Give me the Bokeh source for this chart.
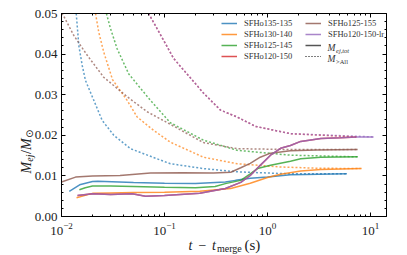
import math
from bokeh.plotting import figure
from bokeh.models import (Range1d, LinearAxis, LogAxis, LogTicker, SingleIntervalTicker,
                          NumeralTickFormatter, Legend, LegendItem, Label)
from bokeh.embed import file_html
from bokeh.resources import INLINE

# ---------------- data ----------------
models = ["SFHo135-135", "SFHo130-140", "SFHo125-145", "SFHo120-150",
          "SFHo125-155", "SFHo120-150-lr"]
colors = ["#1f77b4", "#ff7f0e", "#2ca02c", "#d62728", "#8c564b", "#9467bd"]

# solid: ejecta mass vs time after merger
t_unb_135 = [0.0119, 0.0150, 0.020, 0.0225, 0.05, 0.1, 0.2, 0.39, 0.49, 0.68, 1.0, 1.67, 5.9]
m_unb_135 = [0.0062, 0.0078, 0.0086, 0.0087, 0.0084, 0.0082, 0.0081, 0.0085, 0.0089, 0.0094, 0.0097, 0.0103, 0.0105]

t_unb_130 = [0.014, 0.017, 0.020, 0.030, 0.05, 0.1, 0.22, 0.44, 0.68, 1.0, 1.34, 2.1, 3.3, 8.2]
m_unb_130 = [0.0046, 0.0052, 0.0057, 0.0058, 0.0059, 0.0060, 0.0062, 0.0069, 0.0082, 0.0096, 0.0104, 0.0112, 0.0116, 0.0118]

t_unb_125 = [0.0149, 0.017, 0.020, 0.030, 0.05, 0.1, 0.2, 0.31, 0.39, 0.55, 0.68, 0.80, 1.07, 1.67, 2.1, 3.3, 7.5]
m_unb_125 = [0.0066, 0.0071, 0.0075, 0.0075, 0.0074, 0.0072, 0.0071, 0.0074, 0.0081, 0.0089, 0.0105, 0.0118, 0.0126, 0.0136, 0.0142, 0.0146, 0.0147]

t_unb_120 = [0.0143, 0.020, 0.030, 0.0485, 0.0654, 0.1, 0.22, 0.39, 0.55, 0.68, 0.85, 1.07, 1.34, 1.67, 2.1, 3.3, 5.1, 7.3]
m_unb_120 = [0.0052, 0.0056, 0.0054, 0.0056, 0.0050, 0.0052, 0.0057, 0.0069, 0.0084, 0.0101, 0.0126, 0.0151, 0.0168, 0.0175, 0.0185, 0.0192, 0.0194, 0.0196]

t_unb_155 = [0.0100, 0.0137, 0.020, 0.037, 0.073, 0.15, 0.30, 0.44, 0.55, 0.68, 0.85, 1.07, 1.67, 3.0, 7.5]
m_unb_155 = [0.0085, 0.0097, 0.0100, 0.0101, 0.0107, 0.0108, 0.0107, 0.0109, 0.0120, 0.0131, 0.0146, 0.0156, 0.0162, 0.0164, 0.0165]

t_unb_lr = [0.0143, 0.020, 0.030, 0.0485, 0.0654, 0.1, 0.22, 0.39, 0.55, 0.68, 0.85, 1.07, 1.34, 1.67, 2.1, 3.3, 5.1, 7.3, 10.7]
m_unb_lr = [0.0052, 0.0056, 0.0054, 0.0056, 0.0050, 0.0052, 0.0057, 0.0069, 0.0084, 0.0101, 0.0126, 0.0151, 0.0168, 0.0175, 0.0185, 0.0192, 0.0194, 0.0196, 0.0196]

# dotted: mass above threshold vs time after merger
t_all_135 = [0.0139, 0.01473, 0.01589, 0.0171, 0.0206, 0.0248, 0.0322, 0.0468, 0.0849, 0.114, 0.239, 0.508, 1.67, 5.98]
m_all_135 = [0.050, 0.0421, 0.0372, 0.0335, 0.0286, 0.0237, 0.0200, 0.0167, 0.0142, 0.0130, 0.0118, 0.0110, 0.0105, 0.0105]

t_all_130 = [0.0214, 0.0230, 0.0257, 0.0313, 0.0434, 0.0543, 0.0787, 0.114, 0.239, 0.508, 1.34, 3.0, 8.0]
m_all_130 = [0.050, 0.0454, 0.0405, 0.0337, 0.0286, 0.0245, 0.0212, 0.0183, 0.0146, 0.0130, 0.0122, 0.0119, 0.0118]

t_all_125 = [0.0273, 0.0299, 0.0347, 0.0450, 0.0503, 0.0731, 0.114, 0.239, 0.508, 1.67, 7.48]
m_all_125 = [0.050, 0.0463, 0.0413, 0.0351, 0.0336, 0.0286, 0.0231, 0.0188, 0.0163, 0.0151, 0.0147]

t_all_120 = [0.0700, 0.102, 0.122, 0.239, 0.350, 0.508, 0.764, 1.67, 7.3]
m_all_120 = [0.050, 0.0426, 0.039, 0.0304, 0.0262, 0.0245, 0.0222, 0.0204, 0.0196]

t_all_155 = [0.0100, 0.01039, 0.01316, 0.01778, 0.0257, 0.0434, 0.0679, 0.114, 0.239, 0.508, 1.67, 7.48]
m_all_155 = [0.0500, 0.0496, 0.0446, 0.0397, 0.0343, 0.0295, 0.0258, 0.0227, 0.0182, 0.0167, 0.0165, 0.0165]

t_all_lr = [0.0700, 0.102, 0.122, 0.239, 0.350, 0.508, 0.764, 1.67, 10.7]
m_all_lr = [0.050, 0.0426, 0.039, 0.0304, 0.0262, 0.0245, 0.0222, 0.0204, 0.0196]

solid = [(t_unb_135, m_unb_135), (t_unb_130, m_unb_130), (t_unb_125, m_unb_125),
         (t_unb_120, m_unb_120), (t_unb_155, m_unb_155), (t_unb_lr, m_unb_lr)]
dotted = [(t_all_135, m_all_135), (t_all_130, m_all_130), (t_all_125, m_all_125),
          (t_all_120, m_all_120), (t_all_155, m_all_155), (t_all_lr, m_all_lr)]

# axis limits of the panel
x_lo, x_hi = 0.01, 14.3
y_lo, y_hi = 0.0, 0.05
y_tick_step = 0.01

# ---------------- layout (pixels) ----------------
W, H = 407, 255
AX_L, AX_R, AX_T, AX_B = 61, 386, 13, 216   # panel box inside the canvas

# extend the data ranges so that the panel box lands on AX_* while the
# whole canvas is the plotting frame (lets titles sit outside the panel)
lpp = (math.log10(x_hi) - math.log10(x_lo)) / (AX_R - AX_L)
xr0 = 10 ** (math.log10(x_lo) - AX_L * lpp)
xr1 = 10 ** (math.log10(x_hi) + (W - AX_R) * lpp)
ypp = (y_hi - y_lo) / (AX_B - AX_T)
yr0 = y_lo - (H - AX_B) * ypp
yr1 = y_hi + AX_T * ypp

SERIF = "Liberation Serif"

p = figure(width=W, height=H, x_axis_type="log",
           x_range=Range1d(xr0, xr1), y_range=Range1d(yr0, yr1),
           x_axis_location=None, y_axis_location=None,
           output_backend="svg", toolbar_location=None, min_border=0)
p.xgrid.visible = False
p.ygrid.visible = False
p.outline_line_color = None
p.background_fill_color = "white"
p.border_fill_color = "white"

dot_r = []
for (t, m), c in zip(dotted, colors):
    dot_r.append(p.line(t, m, line_color=c, line_width=1.5, line_alpha=0.7, line_dash="2 2"))
sol_r = []
for (t, m), c in zip(solid, colors):
    sol_r.append(p.line(t, m, line_color=c, line_width=1.5, line_alpha=0.8))

# legend-only renderers (a single NaN point draws nothing in the panel)
nan = float("nan")
r_tot = p.line([nan], [nan], line_color="#555555", line_width=1.5)
r_all = p.line([nan], [nan], line_color="black", line_width=1.2, line_dash="1 2")

def style_axis(ax, show_labels):
    ax.axis_line_color = "black"
    ax.axis_line_width = 1
    ax.major_tick_in = 4
    ax.major_tick_out = 0
    ax.minor_tick_in = 2
    ax.minor_tick_out = 0
    ax.major_tick_line_color = "black"
    ax.minor_tick_line_color = "black"
    if show_labels:
        ax.major_label_text_font = SERIF
        ax.major_label_text_font_size = "13px"
        ax.major_label_text_color = "#222222"
    else:
        ax.major_label_text_font_size = "0px"
        ax.major_label_text_color = None

bottom = LogAxis(ticker=LogTicker(num_minor_ticks=10), fixed_location=y_lo, bounds=(x_lo, x_hi))
style_axis(bottom, True)
bottom.major_label_standoff = 6
p.add_layout(bottom, "below")

top = LogAxis(ticker=LogTicker(num_minor_ticks=10), fixed_location=y_hi, bounds=(x_lo, x_hi))
style_axis(top, False)
p.add_layout(top, "above")

left = LinearAxis(ticker=SingleIntervalTicker(interval=y_tick_step, num_minor_ticks=5),
                  formatter=NumeralTickFormatter(format="0.00"),
                  fixed_location=x_lo, bounds=(y_lo, y_hi))
style_axis(left, True)
left.major_label_standoff = 4
p.add_layout(left, "left")

right = LinearAxis(ticker=SingleIntervalTicker(interval=y_tick_step, num_minor_ticks=5),
                   fixed_location=x_hi, bounds=(y_lo, y_hi))
style_axis(right, False)
p.add_layout(right, "right")

# legends (two columns)
def make_legend(items, vx, vy):
    return Legend(items=items, location=(vx, vy), orientation="vertical",
                  label_text_font=SERIF, label_text_font_size="8.5px",
                  label_text_color="#333333",
                  glyph_width=16, glyph_height=10, label_height=10, label_standoff=7,
                  spacing=1, padding=0, margin=0,
                  border_line_alpha=0, background_fill_alpha=0)

LEG_BOTTOM = H - 61
leg1 = make_legend([LegendItem(label=models[i], renderers=[sol_r[i]]) for i in range(4)],
                   221, LEG_BOTTOM)
leg2 = make_legend([LegendItem(label=models[4], renderers=[sol_r[4]]),
                    LegendItem(label=models[5], renderers=[sol_r[5]]),
                    LegendItem(label=" ", renderers=[r_tot]),
                    LegendItem(label=" ", renderers=[r_all])], 305, LEG_BOTTOM)
p.add_layout(leg1, "center")
p.add_layout(leg2, "center")

def lab(text, px, py, size, style="normal", angle=0.0, color="#222222", font=SERIF):
    # px, py: canvas pixels from the top-left corner
    p.add_layout(Label(x=px, y=H - py, x_units="screen", y_units="screen", text=text,
                       text_font=font, text_font_size=size, text_font_style=style,
                       text_color=color, angle=angle, text_baseline="alphabetic",
                       text_align="left"))

# legend math labels: M_ej,tot and M_>All
lab("M", 327, 47.5, "9.5px", "italic", color="#333333")
lab("ej,tot", 335.5, 49.5, "6.5px", "italic", color="#333333")
lab("M", 327, 58.5, "9.5px", "italic", color="#333333")
lab(">All", 335.5, 60.5, "6.5px", "normal", color="#333333")

# x-axis title: t - t_merge (s)
lab("t", 188, 244.5, "14px", "italic")
lab("\u2212", 198, 244.5, "14px")
lab("t", 211.5, 244.5, "14px", "italic")
lab("merge", 216.5, 247.5, "10px")
lab("(s)", 244, 244.5, "15px")

# y-axis title: M_ej / M_sun (rotated)
ang = math.pi / 2
YS = 36  # empirical shift of rotated pieces
lab("M", 26, 137 + YS, "14px", "italic", angle=ang)
lab("ej", 29, 125.3 + YS, "10px", "italic", angle=ang)
lab("/", 26, 117.5 + YS, "14px", angle=ang)
lab("M", 26, 113.6 + YS, "14px", "italic", angle=ang)
lab("\u2299", 29, 101.5 + YS, "10px", angle=ang, font="DejaVu Sans")

html = file_html(p, INLINE)
open("out.html", "w").write(html)
